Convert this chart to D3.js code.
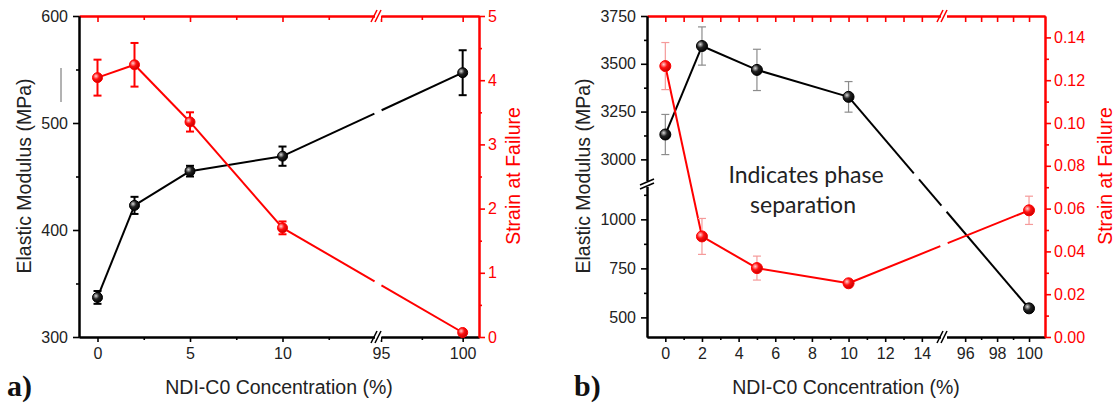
<!DOCTYPE html>
<html>
<head>
<meta charset="utf-8">
<script src="https://cdn.jsdelivr.net/npm/d3@7"></script>
<style>
body{margin:0;background:#fff;}
svg{display:block;font-family:"Liberation Sans",Arial,sans-serif;}
</style>
</head>
<body>
<svg id="chart" width="1118" height="407"></svg>
<script>
// ---- panel a data
var concA = [0, 2, 5, 10, 100];
var modulusA = [337, 423, 455, 469, 547];
var modulusErrA = [6, 8, 5, 9, 21];
var strainA = [4.04, 4.24, 3.35, 1.70, 0.07];
var strainErrA = [0.28, 0.34, 0.15, 0.10, 0.03];

// ---- panel b data
var concB = [0, 2, 5, 10, 100];
var modulusB = [3130, 3593, 3468, 3327, 546];
var modulusErrB = [105, 100, 108, 80, 8];
var strainB = [0.1266, 0.047, 0.0322, 0.0251, 0.0592];
var strainErrB = [0.011, 0.0084, 0.0056, 0.0012, 0.0066];

// ---- tick values
var xTicksA = [0, 5, 10, 95, 100];
var xMinorA = [2.5, 7.5, 12.5, 97.5];
var yTicksA = [300, 400, 500, 600];
var yMinorA = [350, 450, 550];
var y2TicksA = [0, 1, 2, 3, 4, 5];
var y2MinorA = [0.5, 1.5, 2.5, 3.5, 4.5];

var xTicksB = [0, 2, 4, 6, 8, 10, 12, 14, 96, 98, 100];
var xMinorB = [1, 3, 5, 7, 9, 11, 13, 97, 99];
var yTicksB = [500, 750, 1000, 3000, 3250, 3500, 3750];
var yMinorB = [625, 875, 1125, 3125, 3375, 3625];
var y2TicksB = [0, 0.02, 0.04, 0.06, 0.08, 0.10, 0.12, 0.14];
var y2MinorB = [0.01, 0.03, 0.05, 0.07, 0.09, 0.11, 0.13];

var RED = "#ff0000";
var svg = d3.select("#chart");
var defs = svg.append("defs");

var makeGradient = function(id, light, mid, dark)
{
    var g = defs.append("radialGradient").attr("id", id)
        .attr("cx", "35%").attr("cy", "35%").attr("r", "70%");
    g.append("stop").attr("offset", "0%").attr("stop-color", light);
    g.append("stop").attr("offset", "45%").attr("stop-color", mid);
    g.append("stop").attr("offset", "100%").attr("stop-color", dark);
}
makeGradient("ballBlack", "#d8d8d8", "#222", "#000");
makeGradient("ballRed", "#ffd0d0", "#ff1010", "#c00000");

// scale made of several linear pieces (axis break)
var brokenScale = function(segs)
{
    var f = function(v)
    {
        for (var i = 0; i < segs.length; i++) {
            var d = segs[i].domain();
            if (v >= Math.min(d[0], d[1]) && v <= Math.max(d[0], d[1])) return segs[i](v);
        }
        return segs[segs.length - 1](v);
    }
    f.segs = segs;
    return f;
}

var inSeg = function(seg, vals)
{
    var d = seg.domain();
    return vals.filter(function(v) { return v >= Math.min(d[0], d[1]) - 1e-9 && v <= Math.max(d[0], d[1]) + 1e-9; });
}

var drawAxis = function(maker, scale, tr, major, minor, color, majLen, minLen, pad, fmt)
{
    scale.segs.forEach(function(seg)
    {
        var gMin = svg.append("g").attr("transform", tr)
            .call(maker(seg).tickValues(inSeg(seg, minor)).tickSize(minLen).tickSizeOuter(0).tickFormat(""));
        var gMaj = svg.append("g").attr("transform", tr)
            .call(maker(seg).tickValues(inSeg(seg, major)).tickSize(majLen).tickSizeOuter(0)
                .tickPadding(pad).tickFormat(fmt ? fmt : function() { return ""; }));
        [gMin, gMaj].forEach(function(g)
        {
            g.attr("color", color).attr("font-size", 16).attr("font-family", "Liberation Sans, Arial, sans-serif");
            g.select(".domain").attr("stroke-width", 2);
            g.selectAll(".tick line").attr("stroke-width", 1.6);
        });
        gMaj.selectAll(".tick text").attr("fill", color === RED ? RED : "#222");
    });
}

var breakMarkX = function(x, y, color)
{
    svg.append("rect").attr("x", x - 3).attr("y", y - 3).attr("width", 6).attr("height", 6).attr("fill", "#fff");
    [-4, 0].forEach(function(o)
    {
        svg.append("line").attr("x1", x + o - 3).attr("y1", y + 6).attr("x2", x + o + 3).attr("y2", y - 6)
            .attr("stroke", color).attr("stroke-width", 1.6);
    });
}
var breakMarkY = function(x, y, color)
{
    svg.append("rect").attr("x", x - 3).attr("y", y - 3).attr("width", 6).attr("height", 6).attr("fill", "#fff");
    [-2, 2].forEach(function(o)
    {
        svg.append("line").attr("x1", x - 7).attr("y1", y + o + 3).attr("x2", x + 7).attr("y2", y + o - 3)
            .attr("stroke", color).attr("stroke-width", 1.6);
    });
}

// series line, with small gaps where it crosses the x break
var drawSeries = function(conc, vals, errs, xs, ys, breakVal, breakPx, opt)
{
    var pts = conc.map(function(c, i) { return [xs(c), ys(vals[i]), c]; });
    var g = svg.append("g");
    for (var i = 0; i < pts.length - 1; i++) {
        var p0 = pts[i], p1 = pts[i + 1];
        var fr = [];
        if (p0[2] < breakVal && p1[2] > breakVal) {
            fr.push((breakPx - p0[0]) / (p1[0] - p0[0]));
            (opt.extraGaps || []).forEach(function(f) { fr.push(f); });
        }
        fr.sort();
        var len = Math.hypot(p1[0] - p0[0], p1[1] - p0[1]);
        var h = 4 / len;
        var cuts = [0];
        fr.forEach(function(f) { cuts.push(f - h); cuts.push(f + h); });
        cuts.push(1);
        for (var k = 0; k < cuts.length; k += 2) {
            g.append("line")
                .attr("x1", p0[0] + (p1[0] - p0[0]) * cuts[k]).attr("y1", p0[1] + (p1[1] - p0[1]) * cuts[k])
                .attr("x2", p0[0] + (p1[0] - p0[0]) * cuts[k + 1]).attr("y2", p0[1] + (p1[1] - p0[1]) * cuts[k + 1])
                .attr("stroke", opt.color).attr("stroke-width", 2);
        }
    }
    // error bars
    var eb = svg.append("g").attr("stroke", opt.errColor).attr("stroke-width", opt.errWidth);
    conc.forEach(function(c, i)
    {
        var x = xs(c), yt = ys(vals[i] + errs[i]), yb = ys(vals[i] - errs[i]);
        eb.append("line").attr("x1", x).attr("x2", x).attr("y1", yt).attr("y2", yb);
        eb.append("line").attr("x1", x - 4).attr("x2", x + 4).attr("y1", yt).attr("y2", yt);
        eb.append("line").attr("x1", x - 4).attr("x2", x + 4).attr("y1", yb).attr("y2", yb);
    });
    svg.append("g").selectAll("circle").data(pts).enter().append("circle")
        .attr("cx", function(p) { return p[0]; })
        .attr("cy", function(p) { return p[1]; })
        .attr("r", opt.r)
        .attr("fill", "url(#" + opt.grad + ")")
        .attr("stroke", opt.color).attr("stroke-width", 1);
}

// ================= panel a =================
var plotA = {left: 79, right: 479, top: 16, bottom: 337};
var xA = brokenScale([
    d3.scaleLinear().domain([-1, 15]).range([79, 375]),
    d3.scaleLinear().domain([95, 101]).range([381, 479])
]);
var yA = brokenScale([d3.scaleLinear().domain([300, 600]).range([337, 16])]);
var y2A = brokenScale([d3.scaleLinear().domain([0, 5]).range([337, 16])]);

drawAxis(d3.axisBottom, xA, "translate(0," + plotA.bottom + ")", xTicksA, xMinorA, "#000", 5, 3, 6, d3.format("d"));
drawAxis(d3.axisTop, xA, "translate(0," + plotA.top + ")", xTicksA, xMinorA, RED, -6, -4, 3, null);
drawAxis(d3.axisLeft, yA, "translate(" + plotA.left + ",0)", yTicksA, yMinorA, "#000", 6, 3, 5, d3.format("d"));
drawAxis(d3.axisRight, y2A, "translate(" + plotA.right + ",0)", y2TicksA, y2MinorA, RED, 6, 3, 3, d3.format("d"));
breakMarkX(378, plotA.bottom, "#000");
breakMarkX(378, plotA.top, RED);

drawSeries(concA, modulusA, modulusErrA, xA, yA, 50, 378,
    {color: "#000", errColor: "#000", errWidth: 2, r: 5, grad: "ballBlack"});
drawSeries(concA, strainA, strainErrA, xA, y2A, 50, 378,
    {color: RED, errColor: RED, errWidth: 2, r: 5, grad: "ballRed"});

// ================= panel b =================
var plotB = {left: 647, right: 1045, top: 16, bottom: 337};
var xB = brokenScale([
    d3.scaleLinear().domain([-1, 15.1]).range([647, 942]),
    d3.scaleLinear().domain([94.8, 101]).range([946, 1045])
]);
var yB = brokenScale([
    d3.scaleLinear().domain([400, 1170]).range([337, 186]),
    d3.scaleLinear().domain([2880, 3750]).range([182.3, 16])
]);
var y2B = brokenScale([d3.scaleLinear().domain([0, 0.15]).range([337, 16])]);

drawAxis(d3.axisBottom, xB, "translate(0," + plotB.bottom + ")", xTicksB, xMinorB, "#000", 5, 3, 6, d3.format("d"));
drawAxis(d3.axisTop, xB, "translate(0," + plotB.top + ")", xTicksB, xMinorB, RED, -6, -6, 3, null);
drawAxis(d3.axisLeft, yB, "translate(" + plotB.left + ",0)", yTicksB, yMinorB, "#000", 6, 3, 5, d3.format("d"));
drawAxis(d3.axisRight, y2B, "translate(" + plotB.right + ",0)", y2TicksB, y2MinorB, RED, 6, 4, 3, d3.format(".2f"));
breakMarkX(944, plotB.bottom, "#000");
breakMarkX(944, plotB.top, RED);
breakMarkY(plotB.left, 184, "#000");

drawSeries(concB, modulusB, modulusErrB, xB, yB, 50, 944,
    {color: "#000", errColor: "#8c8c8c", errWidth: 1.2, r: 5.5, grad: "ballBlack", extraGaps: [0.376]});
drawSeries(concB, strainB, strainErrB, xB, y2B, 50, 944,
    {color: RED, errColor: "#f59a9a", errWidth: 1.2, r: 5.5, grad: "ballRed"});

// ================= labels =================
var labels = svg.append("g").attr("font-family", "Liberation Sans, Arial, sans-serif");
var addTitle = function(txt, x, y, rot, color)
{
    labels.append("text").text(txt)
        .attr("text-anchor", "middle")
        .attr("font-size", 19.5)
        .attr("fill", color)
        .attr("transform", "translate(" + x + "," + y + ") rotate(" + rot + ")");
}
addTitle("NDI-C0 Concentration (%)", 279, 394, 0, "#222");
addTitle("NDI-C0 Concentration (%)", 846, 394, 0, "#222");
addTitle("Elastic Modulus (MPa)", 31, 176, -90, "#222");
addTitle("Elastic Modulus (MPa)", 590, 176, -90, "#222");
addTitle("Strain at Failure", 520, 176, -90, RED);
addTitle("Strain at Failure", 1112, 176, -90, RED);

labels.append("text").text("a)").attr("x", 7).attr("y", 396)
    .attr("font-family", "Liberation Serif, serif").attr("font-weight", "bold").attr("font-size", 30).attr("fill", "#111");
labels.append("text").text("b)").attr("x", 574).attr("y", 396)
    .attr("font-family", "Liberation Serif, serif").attr("font-weight", "bold").attr("font-size", 30).attr("fill", "#111");

var note = labels.append("text").attr("font-family", "Lato, sans-serif").attr("font-size", 23)
    .attr("fill", "#222").attr("text-anchor", "middle");
note.append("tspan").attr("x", 806).attr("y", 183).text("Indicates phase");
note.append("tspan").attr("x", 803).attr("y", 213).text("separation");

// stray mark left of the panel a axis title
svg.append("line").attr("x1", 61).attr("x2", 61).attr("y1", 68).attr("y2", 102)
    .attr("stroke", "#666").attr("stroke-width", 1);
</script>
</body>
</html>
